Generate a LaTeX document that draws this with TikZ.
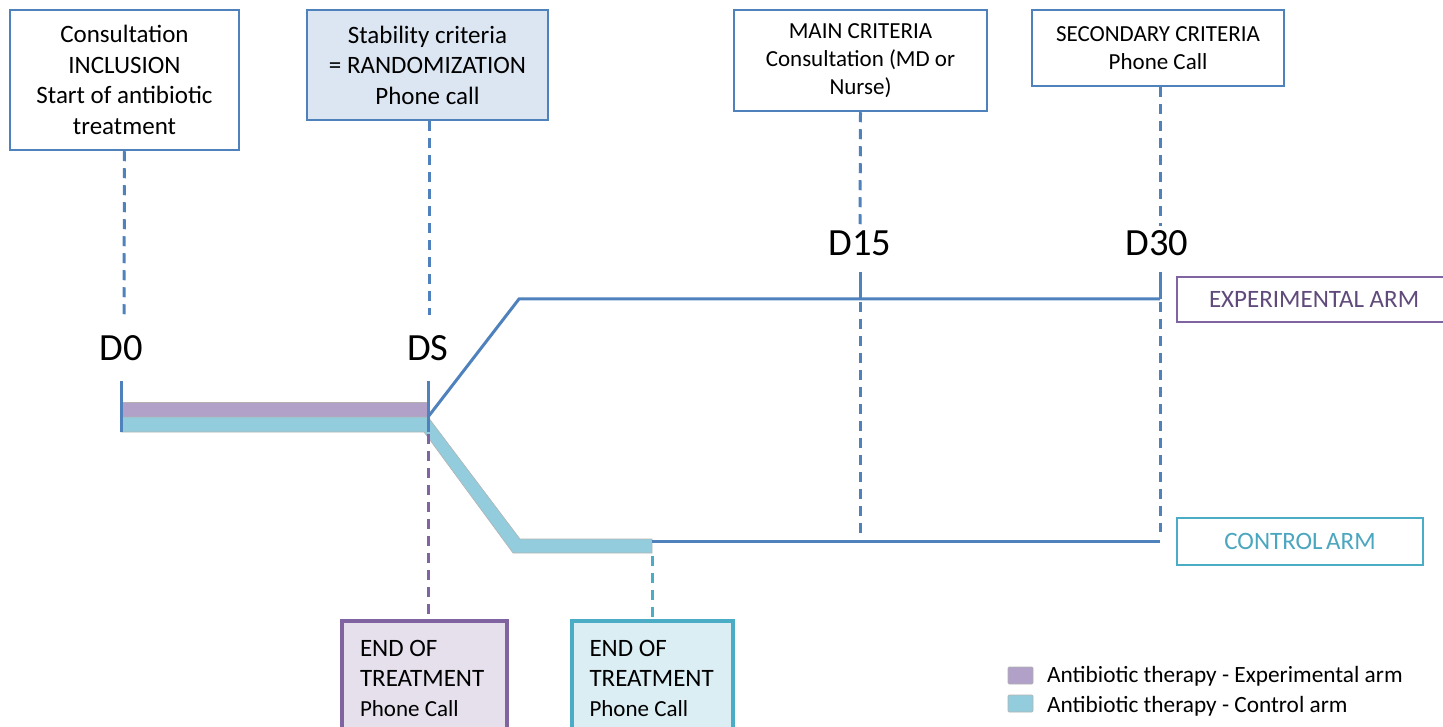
\documentclass[tikz,border=0pt]{standalone}
\usepackage{fontspec}
\setmainfont{Carlito}
\definecolor{lblue}{HTML}{4F81BD}
\definecolor{boxfill}{HTML}{DCE6F2}
\definecolor{pbar}{HTML}{B1A0C7}
\definecolor{cbar}{HTML}{93CDDD}
\definecolor{pborder}{HTML}{8064A2}
\definecolor{ptext}{HTML}{604A7B}
\definecolor{cborder}{HTML}{4BACC6}
\definecolor{ctext}{HTML}{4BA6BF}
\definecolor{pfill}{HTML}{E5E0EC}
\definecolor{cfill}{HTML}{DBEEF4}
\begin{document}
\begin{tikzpicture}[x=1pt,y=-1pt,
  topbox/.style={draw=lblue,line width=2.5pt,fill=white,align=center,inner sep=0pt,text=black},
  armbox/.style={line width=2pt,fill=white,inner sep=0pt},
  endbox/.style={line width=4pt,inner sep=0pt,align=flush left,text width=129pt,
     font=\fontsize{25}{30}\selectfont},
  tl/.style={draw=lblue,line width=3pt},
  dl/.style={line width=3pt,dash pattern=on 10pt off 7pt},
  daylabel/.style={font=\fontsize{38.5}{42}\selectfont,inner sep=0pt},
  bar/.style={draw=black!30,line width=0.6pt}
]
\useasboundingbox (0,0) rectangle (1443,727);

% top boxes
\node[topbox,minimum width=229pt,minimum height=140pt,font=\fontsize{25}{30.5}\selectfont]
  (b1) at (124.5,80) {Consultation\\INCLUSION\\Start of antibiotic\\treatment};
\node[topbox,fill=boxfill,minimum width=241pt,minimum height=110pt,font=\fontsize{25}{30.5}\selectfont]
  (b2) at (427.5,65) {Stability criteria\\= RANDOMIZATION\\Phone call};
\node[topbox,minimum width=253pt,minimum height=101pt,font=\fontsize{23}{28}\selectfont]
  (b3) at (860.5,60.5) {MAIN CRITERIA\\Consultation (MD or\\Nurse)};
\node[topbox,minimum width=252pt,minimum height=76pt,font=\fontsize{23}{28}\selectfont]
  (b4) at (1158,48) {SECONDARY CRITERIA\\Phone Call};

% day labels
\node[daylabel] (d0) at (121,348) {D0};
\node[daylabel] (ds) at (428,348) {DS};
\node[daylabel] (d15) at (860,243) {D15};
\node[daylabel] (d30) at (1157,243) {D30};

% coordinates
\coordinate (d0a) at (124,315);
\coordinate (dsa) at (429,315);
\coordinate (d15a) at (860,228);
\coordinate (d30a) at (1160,226);
\coordinate (t0a) at (121,381); \coordinate (t0b) at (121,432);
\coordinate (tsa) at (428,381); \coordinate (tsb) at (428,432);
\coordinate (t15a) at (860,272); \coordinate (t15b) at (860,299);
\coordinate (t30a) at (1160,272); \coordinate (t30b) at (1160,299);
\coordinate (split) at (428,417);
\coordinate (bend) at (519,299);
\coordinate (expend) at (1160,299);
\coordinate (ctlstart) at (652,541);
\coordinate (ctlend) at (1160,541);
\coordinate (d15c) at (860,541);
\coordinate (d15b) at (860,302);
\coordinate (d30b) at (1160,302);
\coordinate (d30c) at (1160,532);
\coordinate (pdash) at (428,434);
\coordinate (cdash) at (652,556);

% bars
\draw[bar,fill=pbar] (121,402) rectangle (428,417);
\draw[bar,fill=cbar] (121,417) -- (428,417) -- (520,539) -- (652,539) -- (652,553)
  -- (513,553) -- (424,432) -- (121,432) -- cycle;

% dashed guide lines
\draw[dl,draw=lblue] (b1.south) -- (d0a);
\draw[dl,draw=lblue] (b2.south -| dsa) -- (dsa);
\draw[dl,draw=lblue] (b3.south) -- (d15a);
\draw[dl,draw=lblue] (b4.south -| d30a) -- (d30a);
\draw[dl,draw=lblue] (d15b) -- (d15c);
\draw[dl,draw=lblue] (d30b) -- (d30c);

% arms
\draw[tl,line join=miter] (split) -- (bend) -- (expend);
\draw[tl] (ctlstart) -- (ctlend);

% ticks
\draw[tl] (t0a) -- (t0b);
\draw[tl] (tsa) -- (tsb);
\draw[tl] (t15a) -- (t15b);
\draw[tl] (t30a) -- (t30b);

% arm boxes
\node[armbox,draw=pborder,minimum width=273pt,minimum height=45pt,text=ptext,
  font=\fontsize{25}{28}\selectfont,text width=269pt,align=flush left] (exp) at (1313.5,299.5)
  {\hspace*{30pt}EXPERIMENTAL ARM};
\node[armbox,draw=cborder,minimum width=246pt,minimum height=47pt,text=ctext,
  font=\fontsize{25}{28}\selectfont] (ctl) at (1300,541.5) {CONTROL\hspace{3.5pt}ARM};

% end of treatment boxes
\node[endbox,draw=pborder,fill=pfill,minimum width=165pt,minimum height=114pt] (e1) at (424.5,678)
  {END OF\\TREATMENT\\{\fontsize{23}{28}\selectfont Phone Call}\\[-2pt]};
\node[endbox,draw=cborder,fill=cfill,minimum width=161pt,minimum height=114pt,text width=126pt] (e2) at (652.5,678)
  {END OF\\TREATMENT\\{\fontsize{23}{28}\selectfont Phone Call}\\[-2pt]};

\draw[dl,draw=pborder] (pdash) -- (pdash |- e1.north);
\draw[dl,draw=cborder] (cdash) -- (cdash |- e2.north);

% legend
\node[draw=black!30,line width=0.6pt,fill=pbar,minimum width=25pt,minimum height=17pt,inner sep=0pt,rounded corners=1pt] (lg1) at (1020.5,675.5) {};
\node[draw=black!30,line width=0.6pt,fill=cbar,minimum width=25pt,minimum height=17pt,inner sep=0pt,rounded corners=1pt] (lg2) at (1020.5,703.5) {};
\node[anchor=west,inner sep=0pt,font=\fontsize{23.3}{26}\selectfont] (lt1) at (1047,676) {Antibiotic therapy - Experimental arm};
\node[anchor=west,inner sep=0pt,font=\fontsize{23.3}{26}\selectfont] (lt2) at (1047,706) {Antibiotic therapy - Control arm};
\end{tikzpicture}
\end{document}
